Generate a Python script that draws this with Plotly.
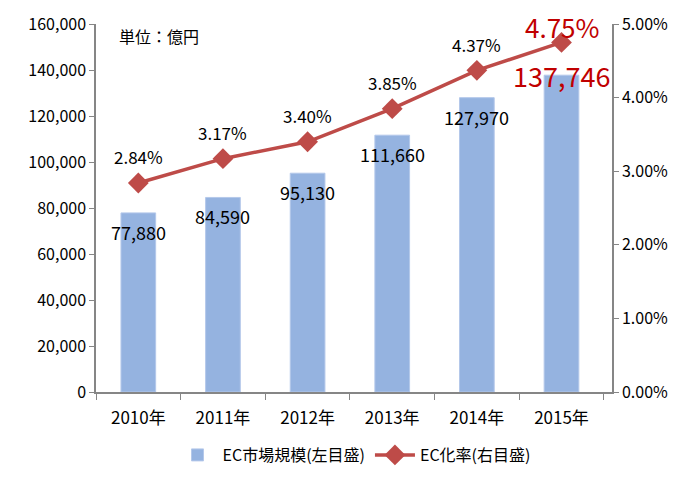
import plotly.graph_objects as go

years = ["2010年", "2011年", "2012年", "2013年", "2014年", "2015年"]
market_size = [77880, 84590, 95130, 111660, 127970, 137746]
ec_rate = [2.84, 3.17, 3.40, 3.85, 4.37, 4.75]

font_jp = "Noto Sans CJK JP"

fig = go.Figure()

fig.add_trace(go.Bar(
    x=years, y=market_size,
    name="EC市場規模(左目盛)",
    marker=dict(color="#95B3E0", line=dict(color="#B4C8EA", width=1)),
    width=0.41,
))

fig.add_trace(go.Scatter(
    x=years, y=ec_rate,
    name="EC化率(右目盛)",
    yaxis="y2",
    mode="lines+markers",
    line=dict(color="#BE4B48", width=3.5),
    marker=dict(symbol="diamond", size=16, color="#BE4B48"),
))

# data labels
for i, (yr, v, r) in enumerate(zip(years, market_size, ec_rate)):
    last = i == len(years) - 1
    fig.add_annotation(
        x=yr, y=v, xref="x", yref="y",
        text=f"{v:,}", showarrow=False,
        yshift=0 if last else -19,
        font=dict(size=27 if last else 18, color="#C00000" if last else "#000000",
                  family=font_jp),
    )
    fig.add_annotation(
        x=yr, y=r, xref="x", yref="y2",
        text=f"{r:.2f}%", showarrow=False,
        yshift=16 if last else 26,
        font=dict(size=26 if last else 17, color="#C00000" if last else "#000000",
                  family=font_jp),
    )

fig.add_annotation(
    x=0.04, y=1.005, xref="paper", yref="paper",
    text="単位：億円", showarrow=False, xanchor="left", yanchor="top",
    font=dict(size=16, color="#000000", family=font_jp),
)

# page body adds an 8px offset, so the figure is sized to fit the window
fig.update_layout(
    width=692, height=483,
    margin=dict(l=88, r=88, t=16, b=99),
    plot_bgcolor="white", paper_bgcolor="white",
    font=dict(family=font_jp, size=15, color="#000000"),
    showlegend=True,
    legend=dict(orientation="h", x=0.5, xanchor="center", y=-0.125, yanchor="top",
                font=dict(size=16), itemwidth=40),
    xaxis=dict(
        showline=True, linecolor="#868686", linewidth=1.5,
        ticks="outside", tickson="boundaries", ticklen=6, tickcolor="#868686",
        tickfont=dict(size=17), automargin=False, ticklabelstandoff=10,
    ),
    yaxis=dict(
        range=[0, 160000], dtick=20000, tickformat=",",
        showgrid=False, showline=True, linecolor="#868686", linewidth=1.5,
        ticks="outside", ticklen=5, tickcolor="#868686",
        tickfont=dict(size=16), zeroline=False, automargin=False,
    ),
    yaxis2=dict(
        range=[0, 5], dtick=1, overlaying="y", side="right",
        ticksuffix="%", tickformat=".2f",
        showgrid=False, showline=True, linecolor="#868686", linewidth=1.5,
        ticks="outside", ticklen=5, tickcolor="#868686",
        tickfont=dict(size=16), zeroline=False, automargin=False,
    ),
)

fig.write_html("out.html")
